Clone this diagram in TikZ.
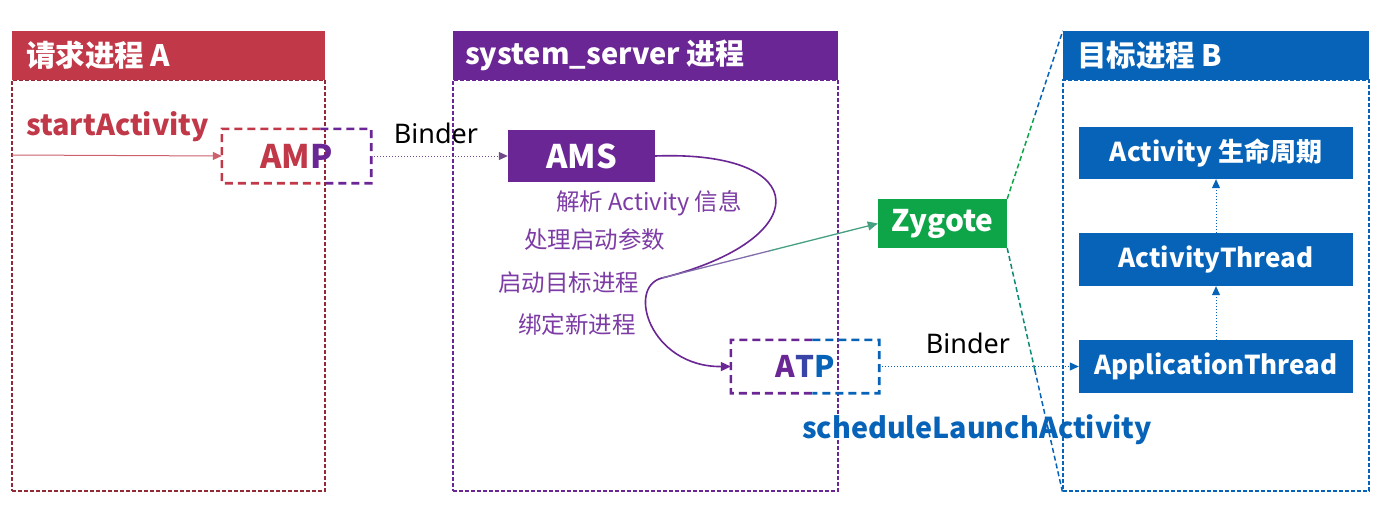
\documentclass[tikz,border=0pt]{standalone}
\usepackage{fontspec}
\setmainfont{Noto Sans CJK SC}
\newfontfamily\latinfont{Noto Sans}
\usetikzlibrary{arrows.meta,calc}
\definecolor{cred}{RGB}{193,56,72}
\definecolor{cpur}{RGB}{106,38,148}
\definecolor{cblue}{RGB}{6,99,184}
\definecolor{cgreen}{RGB}{14,165,72}
\definecolor{clab}{RGB}{125,60,165}
\definecolor{cteal}{RGB}{70,160,130}
\definecolor{cgrape}{RGB}{130,110,170}
\begin{document}
\begin{tikzpicture}[x=1pt,y=-1pt,
  header/.style={fill=#1, draw=none, minimum width=313pt, minimum height=49pt, inner sep=0pt},
  panelbody/.style={draw=#1, line width=1.2pt, dash pattern=on 4pt off 2pt, minimum height=411pt, inner sep=0pt},
  headtext/.style={text=white, font=\fontsize{29.5}{29.5}\selectfont\bfseries, anchor=west, inner sep=0pt},
  solidbox/.style={fill=#1, text=white, inner sep=0pt},
  rbox/.style={fill=cblue, text=white, inner sep=0pt, minimum width=274pt, minimum height=52pt, font=\fontsize{26}{26}\selectfont\bfseries},
  ghost/.style={inner sep=0pt},
  thickdash/.style={line width=2.6pt, dash pattern=on 8pt off 5pt},
  binder/.style={line width=1pt, dotted, -{Triangle[length=9pt,width=8pt]}},
  binderlab/.style={inner sep=0pt, font=\latinfont\fontsize{27}{27}\selectfont},
  steplab/.style={text=clab, anchor=west, inner sep=0pt, font=\fontsize{23.5}{23.5}\selectfont},
  zdash/.style={line width=1.5pt, dash pattern=on 5pt off 3pt}
]
\fill[white] (0,0) rectangle (1389,511);
\useasboundingbox (0,0) rectangle (1389,511);

% Panels
\node[panelbody=cred!75!black, minimum width=313pt] (bodyA) at (168.5,285.5) {};
\node[header=cred] (hdA) at (168.5,55.5) {};
\node[headtext] (tA) at (26,55.5) {请求进程 A};

\node[panelbody=cpur, minimum width=385pt] (bodyS) at (645.5,285.5) {};
\node[header=cpur, minimum width=385pt] (hdS) at (645.5,55.5) {};
\node[headtext, font=\fontsize{29}{29}\selectfont\bfseries] (tS) at (465,55.5) {system\_server 进程};

\node[panelbody=cblue, minimum width=306pt] (bodyB) at (1216,285.5) {};
\node[header=cblue, minimum width=306pt] (hdB) at (1216,55.5) {};
\node[headtext] (tB) at (1077,55.5) {目标进程 B};

% Left panel
\node[text=cred, anchor=west, inner sep=0pt, font=\fontsize{28.8}{28.8}\selectfont\bfseries] (sa) at (26,127) {startActivity};
\coordinate (sA) at (12,155);
\node[ghost, minimum width=149pt, minimum height=54pt, font=\fontsize{32.5}{32.5}\selectfont\bfseries] (AMP) at (296.5,156) {\textcolor{cred}{AM}\textcolor{cpur}{P}};
\coordinate (ampsplitT) at ($(AMP.north west)!0.66!(AMP.north east)$);
\coordinate (ampsplitB) at ($(AMP.south west)!0.66!(AMP.south east)$);
\draw[thickdash, cred] (ampsplitT) -- (AMP.north west) -- (AMP.south west) -- (ampsplitB);
\draw[thickdash, cpur] (ampsplitT) -- (AMP.north east) -- (AMP.south east) -- (ampsplitB);
\draw[line width=1pt, cred!80, -{Triangle[length=9pt,width=8pt]}] (sA) -- (AMP.west);

% Middle panel
\node[solidbox=cpur, minimum width=147pt, minimum height=52pt, font=\fontsize{32.5}{32.5}\selectfont\bfseries] (AMS) at (581.5,156) {AMS};
\draw[binder, cpur!60!gray] (AMP.east) -- (AMS.west);
\node[binderlab] (b1) at (436,133) {Binder};

\node[steplab] (l1) at (556,203) {解析 Activity 信息};
\node[steplab] (l2) at (524,240) {处理启动参数};
\node[steplab] (l3) at (498,283) {启动目标进程};
\node[steplab] (l4) at (518,325) {绑定新进程};

\node[ghost, minimum width=148pt, minimum height=53pt, font=\fontsize{29.7}{29.7}\selectfont\bfseries] (ATP) at (805,366.5) {\textcolor{cpur}{A}\textcolor{cpur!50!cblue}{T}\textcolor{cblue}{P}};
\coordinate (atpsplitT) at ($(ATP.north west)!0.55!(ATP.north east)$);
\coordinate (atpsplitB) at ($(ATP.south west)!0.55!(ATP.south east)$);
\draw[thickdash, cpur] (atpsplitT) -- (ATP.north west) -- (ATP.south west) -- (atpsplitB);
\draw[thickdash, cblue] (atpsplitT) -- (ATP.north east) -- (ATP.south east) -- (atpsplitB);

\coordinate (bend) at (662,278);
\draw[line width=1.6pt, cpur, -{Triangle[length=10pt,width=9pt]}] (AMS.east) .. controls (815,150) and (815,240) .. (bend) .. controls (626,287) and (650,367) .. (ATP.west);

% Zygote
\node[solidbox=cgreen, minimum width=129pt, minimum height=49pt, font=\fontsize{29.8}{29.8}\selectfont\bfseries] (Zyg) at (942.5,223.5) {Zygote};
\coordinate (gmid) at ($(bend)!0.5!(Zyg.west)$);
\draw[line width=1.3pt, cgrape] (bend) -- (gmid);
\draw[line width=1.3pt, cteal, -{Triangle[length=10pt,width=9pt]}] (gmid) -- (Zyg.west);
\coordinate (zmidT) at ($(Zyg.north east)!0.5!(hdB.north west)$);
\coordinate (zmidB) at ($(Zyg.south east)!0.5!(bodyB.south west)$);
\draw[zdash, cgreen] (Zyg.north east) -- (zmidT);
\draw[zdash, cblue] (zmidT) -- (hdB.north west);
\draw[zdash, cgreen!60!cblue] (Zyg.south east) -- (zmidB);
\draw[zdash, cblue] (zmidB) -- (bodyB.south west);

% Right panel
\node[rbox] (Act) at (1216,153) {Activity 生命周期};
\node[rbox, minimum height=53pt] (AT) at (1216,259.5) {ActivityThread};
\node[rbox, minimum height=53pt] (AppT) at (1216,366.5) {ApplicationThread};
\draw[binder, cblue] (AppT.north) -- (AT.south);
\draw[binder, cblue] (AT.north) -- (Act.south);

\draw[binder, cblue] (ATP.east) -- (AppT.west);
\node[binderlab] (b2) at (968,343) {Binder};

\node[text=cblue, inner sep=0pt, font=\fontsize{28.7}{28.7}\selectfont\bfseries] (sla) at (977,430) {scheduleLaunchActivity};
\end{tikzpicture}
\end{document}
